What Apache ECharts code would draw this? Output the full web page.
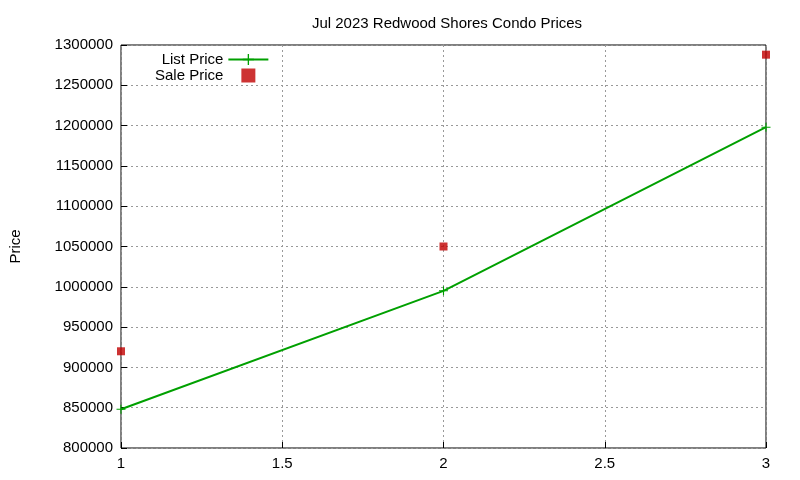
<!DOCTYPE html>
<html><head><meta charset="utf-8">
<script src="https://cdn.jsdelivr.net/npm/echarts@6/dist/echarts.min.js"></script>
<style>html,body{margin:0;padding:0;background:#fff}#c{width:800px;height:480px}</style>
</head><body><div id="c"></div>
<script>
const xValues = [1, 2, 3];
const listPrice = [848000, 995000, 1198000];
const salePrice = [920000, 1050000, 1288000];
const titleText = 'Jul 2023 Redwood Shores Condo Prices';

const chart = echarts.init(document.getElementById('c'));
const font = 'Liberation Sans, Arial, sans-serif';
const plus = 'path://M-1,-0.12L1,-0.12L1,0.12L-1,0.12Z M-0.12,-1L0.12,-1L0.12,1L-0.12,1Z';
const sq = 'path://M-1,-1L1,-1L1,1L-1,1Z';
chart.setOption({
  animation: false,
  textStyle: {fontFamily: font},
  title: {text: titleText, left: 442, textAlign: 'center', top: 11,
    textStyle: {fontSize: 15, fontWeight: 'normal', color: '#000', fontFamily: font}},
  legend: {orient: 'vertical', left: 150, top: 47, align: 'right', itemGap: 1, itemWidth: 40, itemHeight: 14,
    textStyle: {fontSize: 15, color: '#000', fontFamily: font},
    data: [{name: 'List Price'}, {name: 'Sale Price', icon: sq, itemStyle: {color: '#c00000'}}]},
  grid: {left: 118, right: 34, top: 45, bottom: 32, show: true, borderColor: '#000', borderWidth: 1},
  xAxis: {type: 'value', min: 1, max: 3, interval: 0.5,
    axisLine: {show: false}, axisTick: {inside: true, length: 6, lineStyle: {color: '#000'}},
    axisLabel: {fontSize: 15, color: '#000', margin: 8},
    splitLine: {lineStyle: {type: [2, 3], color: '#999'}}},
  yAxis: {type: 'value', min: 800000, max: 1300000, interval: 50000, name: 'Price',
    nameLocation: 'middle', nameGap: 98, nameTextStyle: {fontSize: 15, color: '#000'},
    axisLine: {show: false}, axisTick: {inside: true, length: 6, lineStyle: {color: '#000'}},
    axisLabel: {fontSize: 15, color: '#000', margin: 8, formatter: v => String(v)},
    splitLine: {lineStyle: {type: [2, 3], color: '#999'}}},
  series: [
    {name: 'List Price', type: 'line', data: xValues.map((x, i) => [x, listPrice[i]]),
      symbol: plus, symbolSize: 9, color: '#00a000', lineStyle: {width: 2, color: '#00a000'},
      itemStyle: {color: '#00a000'}},
    {name: 'Sale Price', type: 'scatter', data: xValues.map((x, i) => [x, salePrice[i]]),
      symbol: 'rect', symbolSize: 8, itemStyle: {color: '#c00000'}}
  ]
});
</script></body></html>
